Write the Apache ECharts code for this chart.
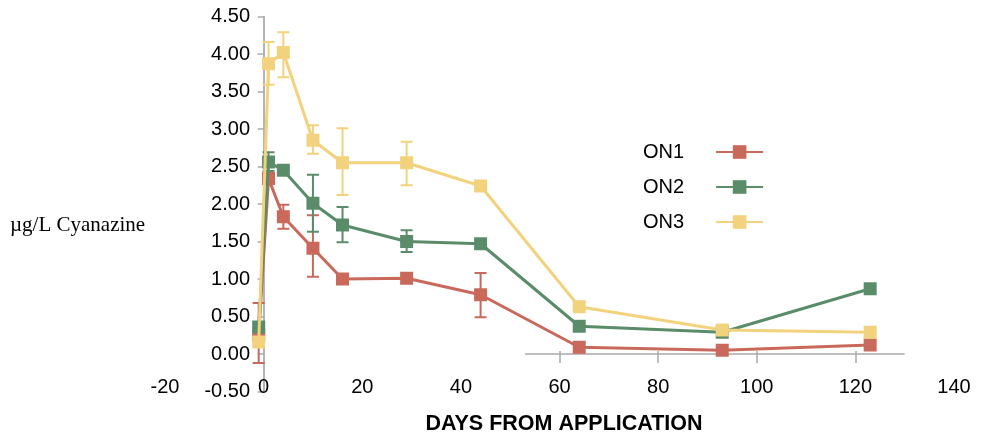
<!DOCTYPE html>
<html>
<head>
<meta charset="utf-8">
<script src="https://cdn.jsdelivr.net/npm/echarts@6/dist/echarts.min.js"></script>
<style>
  html, body { margin: 0; padding: 0; background: #ffffff; }
  #chart { width: 982px; height: 444px; }
</style>
</head>
<body>
<div id="chart"></div>
<script>
// Sampling days after application
const days = [-1, 1, 4, 10, 16, 29, 44, 64, 93, 123];

// Mean cyanazine concentration (µg/L) per plot
const on1 = [0.25, 2.34, 1.83, 1.41, 1.00, 1.01, 0.79, 0.09, 0.05, 0.12];
const on2 = [0.36, 2.56, 2.45, 2.01, 1.72, 1.50, 1.47, 0.37, 0.29, 0.87];
const on3 = [0.16, 3.87, 4.02, 2.85, 2.55, 2.55, 2.24, 0.63, 0.32, 0.29];

// Error bar ranges [low, high], null where no bar is drawn
const on1Err = [[-0.12, 0.68], null, [1.67, 1.99], [1.03, 1.85], null, null, [0.49, 1.08], null, null, null];
const on2Err = [null, [2.44, 2.69], null, [1.63, 2.39], [1.49, 1.96], [1.36, 1.65], null, null, [0.24, 0.36], null];
const on3Err = [null, [3.59, 4.16], [3.69, 4.29], [2.67, 3.05], [2.12, 3.01], [2.25, 2.83], null, null, null, null];

// Axis ticks
const xTicks = { min: -20, max: 140, step: 20 };
const yTicks = { min: -0.5, max: 4.5, step: 0.5 };
// Ticks drawn on the zero baseline
const baselineTicks = [60, 80, 100, 120];
const baselineSpan = [53, 130];

const FONT = "'Liberation Sans', Arial, sans-serif";
const COLORS = { ON1: '#c9695c', ON2: '#5a8c6a', ON3: '#f2d27c' };

function pairs(values) {
  return days.map((d, i) => [d, values[i]]);
}

function lineSeries(name, values, z) {
  return {
    type: 'line',
    name: name,
    data: pairs(values),
    symbol: 'rect',
    symbolSize: 13,
    z: z,
    lineStyle: { color: COLORS[name], width: 3 },
    itemStyle: { color: COLORS[name] },
    emphasis: { disabled: true }
  };
}

function errorSeries(name, errs, z) {
  const data = [];
  days.forEach((d, i) => { if (errs[i]) data.push([d, errs[i][0], errs[i][1]]); });
  const color = COLORS[name];
  return {
    type: 'custom',
    name: name + ' error',
    silent: true,
    z: z,
    encode: { x: 0, y: [1, 2] },
    data: data,
    renderItem: function (params, api) {
      const x = api.value(0);
      const top = api.coord([x, api.value(2)]);
      const bot = api.coord([x, api.value(1)]);
      const w = 6;
      const style = { stroke: color, lineWidth: 2 };
      return {
        type: 'group',
        children: [
          { type: 'line', shape: { x1: top[0], y1: top[1], x2: bot[0], y2: bot[1] }, style: style },
          { type: 'line', shape: { x1: top[0] - w, y1: top[1], x2: top[0] + w, y2: top[1] }, style: style },
          { type: 'line', shape: { x1: bot[0] - w, y1: bot[1], x2: bot[0] + w, y2: bot[1] }, style: style }
        ]
      };
    }
  };
}

// Zero baseline with its tick marks
const baselineData = [[{ coord: [baselineSpan[0], 0] }, { coord: [baselineSpan[1], 0] }]];
baselineTicks.forEach(t => baselineData.push([{ coord: [t, 0.04] }, { coord: [t, -0.12] }]));

const s1 = lineSeries('ON1', on1, 5);
s1.markLine = {
  silent: true,
  symbol: ['none', 'none'],
  label: { show: false },
  lineStyle: { color: '#a9a9a9', width: 1.5, type: 'solid' },
  data: baselineData,
  z: 1
};

const chart = echarts.init(document.getElementById('chart'));
chart.setOption({
  animation: false,
  backgroundColor: '#ffffff',
  grid: { left: 165, right: 28, top: 16.5, bottom: 52.5, containLabel: false },
  xAxis: {
    type: 'value',
    min: xTicks.min, max: xTicks.max, interval: xTicks.step,
    axisLine: { show: false, onZero: false },
    axisTick: { show: false },
    splitLine: { show: false },
    axisLabel: { fontSize: 20, color: '#000', fontFamily: FONT, margin: -14 }
  },
  yAxis: [
    {
      type: 'value',
      min: yTicks.min, max: yTicks.max, interval: yTicks.step,
      axisLine: { show: true, onZero: true, onZeroAxisIndex: 0, lineStyle: { color: '#9a9a9a', width: 1.5 } },
      axisTick: { show: true, length: 6, lineStyle: { color: '#aaaaaa', width: 1.5 } },
      splitLine: { show: false },
      axisLabel: { fontSize: 20, color: '#000', fontFamily: FONT, margin: -85,
                   verticalAlign: 'middle', padding: [3, 0, 0, 0],
                   formatter: v => v.toFixed(2) }
    },
    {
      type: 'value',
      min: yTicks.min, max: yTicks.max, interval: yTicks.step,
      axisLine: { show: false, onZero: true, onZeroAxisIndex: 0 },
      axisTick: { show: true, inside: true, length: 6, lineStyle: { color: '#aaaaaa', width: 1.5 } },
      splitLine: { show: false },
      axisLabel: { show: false }
    }
  ],
  legend: {
    orient: 'vertical',
    left: 638,
    top: 137,
    align: 'right',
    itemWidth: 47,
    itemHeight: 17,
    itemGap: 15,
    data: ['ON1', 'ON2', 'ON3'],
    textStyle: { fontSize: 20, color: '#000', fontFamily: FONT, padding: [0, 27, 0, 0] }
  },
  graphic: [
    {
      type: 'text',
      left: 10,
      top: 215,
      style: { text: 'µg/L Cyanazine', fontSize: 21, fontFamily: "'Liberation Serif', 'Times New Roman', serif", fill: '#000' }
    },
    {
      type: 'text',
      x: 564,
      y: 424,
      style: { text: 'DAYS FROM APPLICATION', fontSize: 21.5, fontWeight: 'bold', fontFamily: FONT, fill: '#000',
               align: 'center', verticalAlign: 'middle' }
    }
  ],
  series: [
    errorSeries('ON1', on1Err, 3),
    errorSeries('ON2', on2Err, 3),
    errorSeries('ON3', on3Err, 3),
    s1,
    lineSeries('ON2', on2, 6),
    lineSeries('ON3', on3, 7)
  ]
});
</script>
</body>
</html>
